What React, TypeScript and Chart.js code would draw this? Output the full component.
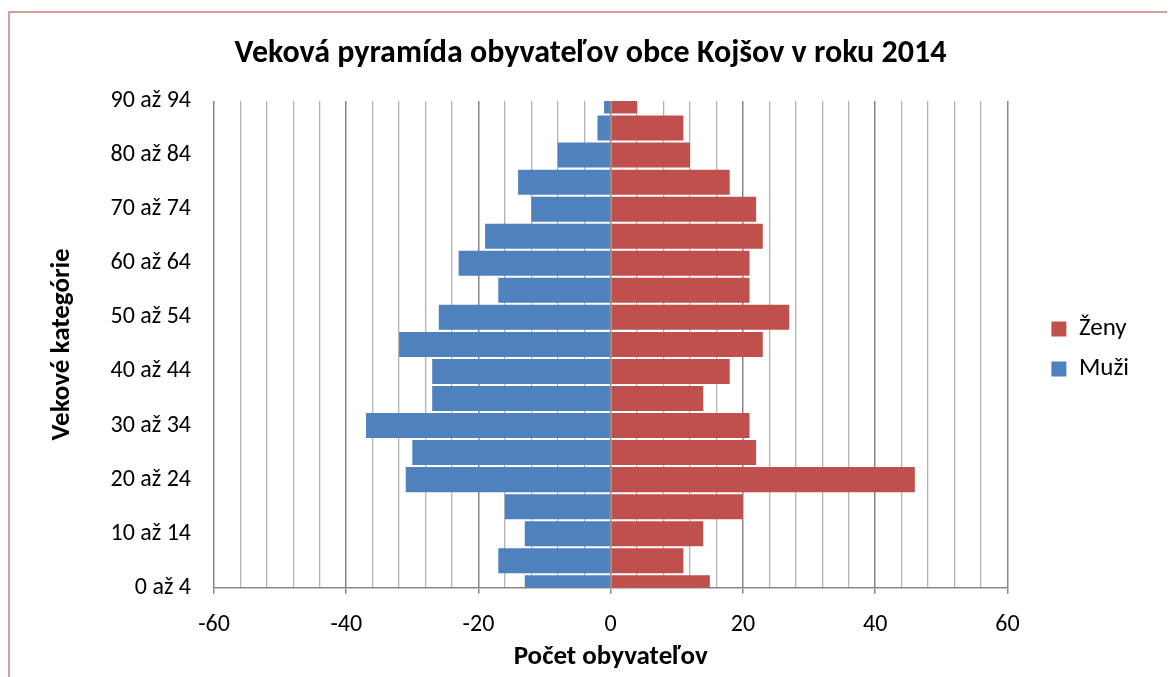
import React, { useEffect, useRef } from "react";
import { Chart, registerables } from "chart.js";

Chart.register(...registerables);

const TITLE = "Veková pyramída obyvateľov obce Kojšov v roku 2014";
const X_TITLE = "Počet obyvateľov";
const Y_TITLE = "Vekové kategórie";

// Age categories, bottom (youngest) to top (oldest)
const categories = [
  "0 až 4", "5 až 9", "10 až 14", "15 až 19", "20 až 24", "25 až 29", "30 až 34",
  "35 až 39", "40 až 44", "45 až 49", "50 až 54", "55 až 59", "60 až 64", "65 až 69",
  "70 až 74", "75 až 79", "80 až 84", "85 až 89", "90 až 94",
];

// Counts of men (plotted to the left as negative values)
const muzi = [13, 17, 13, 16, 31, 30, 37, 27, 27, 32, 26, 17, 23, 19, 12, 14, 8, 2, 1];
// Counts of women
const zeny = [15, 11, 14, 20, 46, 22, 21, 14, 18, 23, 27, 21, 21, 23, 22, 18, 12, 11, 4];

// Only every other category label is shown on the axis
const Y_LABEL_EVERY = 2;

const X_MIN = -60;
const X_MAX = 60;
const X_STEP = 4;
const X_LABEL_STEP = 20;

const FONT = "Carlito, Calibri, Lato, sans-serif";

export default function App() {
  const ref = useRef<HTMLCanvasElement | null>(null);

  useEffect(() => {
    document.body.style.overflow = "hidden";
    const canvas = ref.current;
    if (!canvas) return;
    Chart.defaults.font.family = FONT;
    const isMajor = (v: number) => Math.round(v) % X_LABEL_STEP === 0;

    const chart = new Chart(canvas, {
      type: "bar",
      data: {
        labels: categories,
        datasets: [
          {
            label: "Ženy",
            data: zeny,
            backgroundColor: "#c0504d",
            borderWidth: 0,
            barPercentage: 0.925,
            categoryPercentage: 1,
            clip: 0,
          },
          {
            label: "Muži",
            data: muzi.map((v) => -v),
            backgroundColor: "#4f81bd",
            borderWidth: 0,
            barPercentage: 0.925,
            categoryPercentage: 1,
            clip: 0,
          },
        ],
      },
      options: {
        indexAxis: "y",
        responsive: false,
        animation: false,
        devicePixelRatio: 1,
        layout: { padding: { left: 32, right: 36, top: 0, bottom: 0 } },
        plugins: {
          title: {
            display: true,
            text: TITLE,
            color: "#000",
            font: { size: 32, weight: "bold", family: FONT },
            padding: { top: 22, bottom: 27.6 },
          },
          legend: {
            position: "right",
            title: { display: true, text: " ", font: { size: 5 }, padding: 1 },
            labels: {
              boxWidth: 15,
              boxHeight: 15,
              padding: 15,
              color: "#000",
              font: { size: 25, family: FONT },
            },
          },
          tooltip: { enabled: false },
        },
        scales: {
          x: {
            type: "linear",
            min: X_MIN,
            max: X_MAX,
            stacked: true,
            ticks: {
              stepSize: X_STEP,
              autoSkip: false,
              maxRotation: 0,
              color: "#000",
              font: { size: 24, family: FONT },
              padding: 17,
              callback: (v: any) => (isMajor(Number(v)) ? String(v) : ""),
            },
            grid: {
              color: (ctx: any) => (isMajor(ctx.tick.value) ? "#878787" : "#b3b3b3"),
              lineWidth: (ctx: any) => (isMajor(ctx.tick.value) ? 1.5 : 1.3),
              tickColor: (ctx: any) => (isMajor(ctx.tick.value) ? "#878787" : "rgba(0,0,0,0)"),
              tickLength: 6,
            },
            border: { color: "#878787", width: 1.5 },
            title: {
              display: true,
              text: X_TITLE,
              color: "#000",
              font: { size: 27, weight: "bold", family: FONT },
              padding: { top: -16, bottom: 4 },
            },
          },
          y: {
            type: "category",
            stacked: true,
            reverse: true,
            offset: false,
            ticks: {
              autoSkip: false,
              color: "#000",
              font: { size: 24, family: FONT },
              padding: 23,
              callback: function (this: any, v: any, i: number) {
                return i % Y_LABEL_EVERY === 0 ? this.getLabelForValue(v) : "";
              },
            },
            grid: { display: false, drawTicks: false, offset: false },
            border: { display: false },
            title: {
              display: true,
              text: Y_TITLE,
              color: "#000",
              font: { size: 27, weight: "bold", family: FONT },
              padding: { top: 4, bottom: 4 },
            },
            afterFit: (s: any) => {
              s.width = 172;
            },
          },
          yr: {
            type: "linear",
            position: "right",
            display: true,
            offset: false,
            ticks: { display: false },
            grid: { display: false, drawTicks: false },
            border: { display: false },
            afterFit: (s: any) => {
              s.width = 29;
            },
          },
        },
      } as any,
    });
    return () => chart.destroy();
  }, []);

  return (
    <div style={{ paddingTop: 3 }}>
      <div
        style={{
          width: 1167,
          height: 666,
          boxSizing: "border-box",
          borderLeft: "2px solid #dc9e9d",
          borderTop: "2px solid #dc9e9d",
          background: "#fff",
          overflow: "hidden",
        }}
      >
        <canvas ref={ref} width={1165} height={664} style={{ display: "block" }} />
      </div>
    </div>
  );
}
